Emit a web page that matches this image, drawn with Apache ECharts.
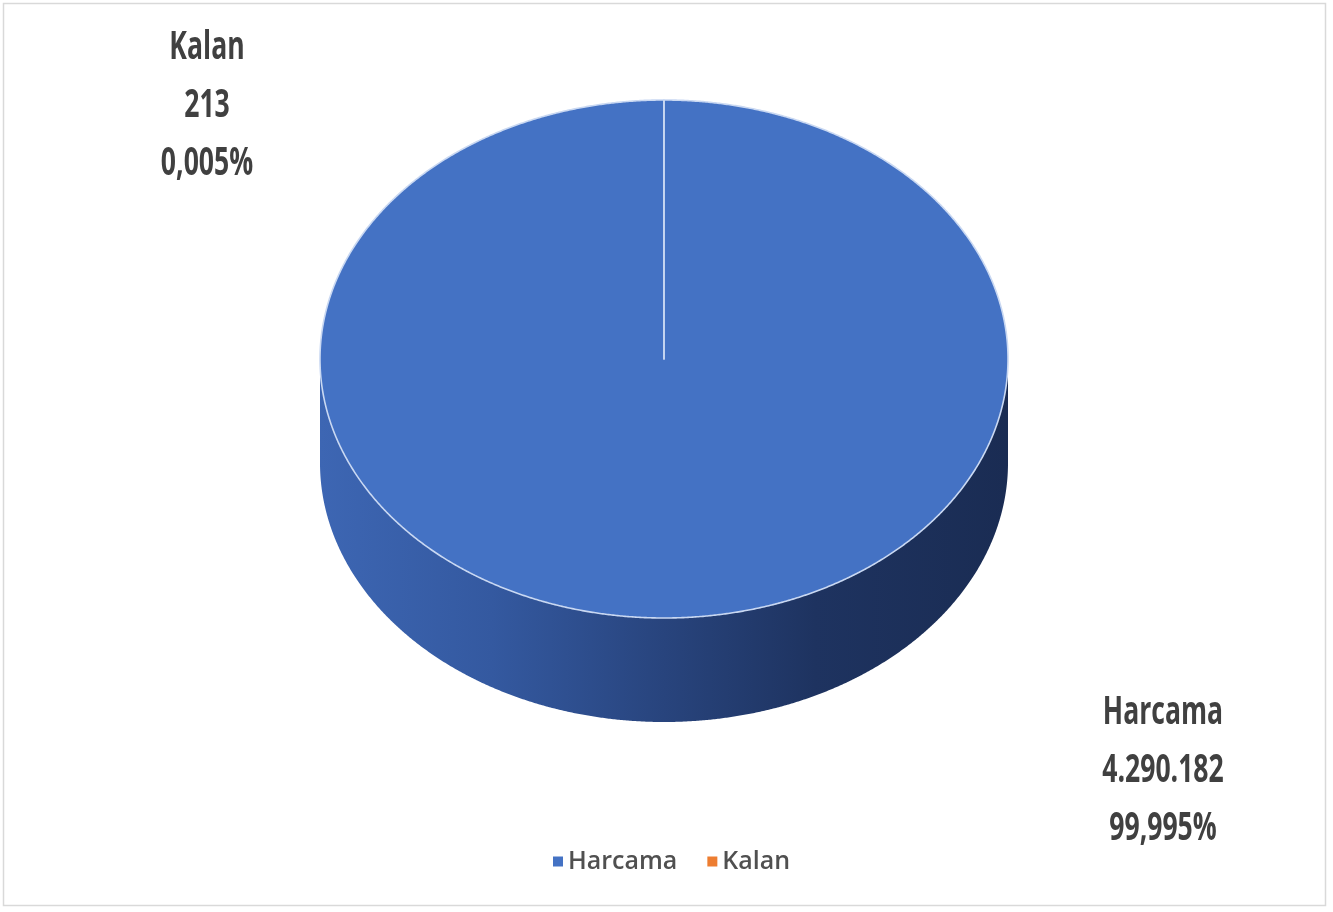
<!DOCTYPE html>
<html>
<head>
<meta charset="utf-8">
<script src="https://cdn.jsdelivr.net/npm/echarts@6/dist/echarts.min.js"></script>
<style>
  html, body { margin: 0; padding: 0; background: #ffffff; }
  #chart { width: 1333px; height: 912px; }
</style>
</head>
<body>
<div id="chart"></div>
<script>
// Budget split: spent vs. remaining
const categories = ['Harcama', 'Kalan'];
const amounts = [4290182, 213];

// Styling
const sliceColors = ['#4472C4', '#ED7D31'];
const labelFont = "'Open Sans', 'Noto Sans', sans-serif";

// 3D pie geometry (top ellipse + side wall)
const CX = 664, CY = 359, RX = 344, RY = 259, DEPTH = 104;
// Where each slice's data label is placed
const labelAnchors = [[1163, 771], [207, 106]];

const total = amounts.reduce((a, b) => a + b, 0);
const starts = amounts.map((_, i) => amounts.slice(0, i).reduce((a, b) => a + b, 0));

const fmtInt = v => String(v).replace(/\B(?=(\d{3})+(?!\d))/g, '.');
const fmtPct = v => (v / total * 100).toFixed(3).replace('.', ',') + '%';

function pt(theta, dy) {
  return [CX + RX * Math.sin(theta), CY - RY * Math.cos(theta) + dy];
}
function arc(a0, a1, dy) {
  const n = Math.max(2, Math.ceil((a1 - a0) / (Math.PI / 720)));
  const pts = [];
  for (let k = 0; k <= n; k++) pts.push(pt(a0 + (a1 - a0) * k / n, dy));
  return pts;
}

const sideGradient = new echarts.graphic.LinearGradient(0, 0, 1, 0, [
  { offset: 0, color: '#3d66b3' },
  { offset: 0.25, color: '#3459a0' },
  { offset: 0.5, color: '#28447d' },
  { offset: 0.72, color: '#1e3360' },
  { offset: 1, color: '#1a2c53' }
]);

function renderSlice(i) {
  return function (params, api) {
    const v = api.value(0);
    const s0 = api.value(1);
    const a0 = s0 / total * Math.PI * 2;
    const a1 = (s0 + v) / total * Math.PI * 2;
    const children = [];

    // side wall: only the front half (3 o'clock through 9 o'clock) is visible
    const s = Math.max(a0, Math.PI / 2);
    const e = Math.min(a1, Math.PI * 3 / 2);
    if (e > s) {
      const pts = arc(s, e, 0).concat(arc(s, e, DEPTH).reverse());
      children.push({
        type: 'polygon',
        shape: { points: pts },
        style: { fill: i === 0 ? sideGradient : api.visual('color'), stroke: null }
      });
    }

    // top face
    const top = [[CX, CY]].concat(arc(a0, a1, 0));
    children.push({
      type: 'polygon',
      shape: { points: top },
      style: { fill: api.visual('color'), stroke: '#c9d8f2', lineWidth: 1.6, lineJoin: 'round' }
    });

    // data label (bold, horizontally condensed)
    children.push({
      type: 'text',
      x: labelAnchors[i][0],
      y: labelAnchors[i][1],
      scaleX: 0.69,
      style: {
        text: [categories[i], fmtInt(v), fmtPct(v)].join('\n'),
        fill: '#404040',
        fontSize: 38.5,
        fontWeight: 'bold',
        fontFamily: labelFont,
        lineHeight: 58,
        align: 'center',
        verticalAlign: 'middle'
      }
    });
    return { type: 'group', children: children };
  };
}

const chart = echarts.init(document.getElementById('chart'), null, { renderer: 'canvas' });
chart.setOption({
  animation: false,
  backgroundColor: '#ffffff',
  graphic: [{
    type: 'rect',
    shape: { x: 3.5, y: 3.5, width: 1322, height: 902 },
    style: { fill: null, stroke: '#d9d9d9', lineWidth: 1.5 },
    silent: true
  }],
  legend: {
    data: categories,
    top: 844,
    left: 548,
    icon: 'rect',
    itemWidth: 10,
    itemHeight: 10,
    itemGap: 30,
    textStyle: { fontSize: 25, fontWeight: 600, color: '#505050', fontFamily: labelFont }
  },
  series: categories.map((name, i) => ({
    type: 'custom',
    name: name,
    coordinateSystem: 'none',
    itemStyle: { color: sliceColors[i] },
    renderItem: renderSlice(i),
    data: [[amounts[i], starts[i]]]
  }))
});
</script>
</body>
</html>
